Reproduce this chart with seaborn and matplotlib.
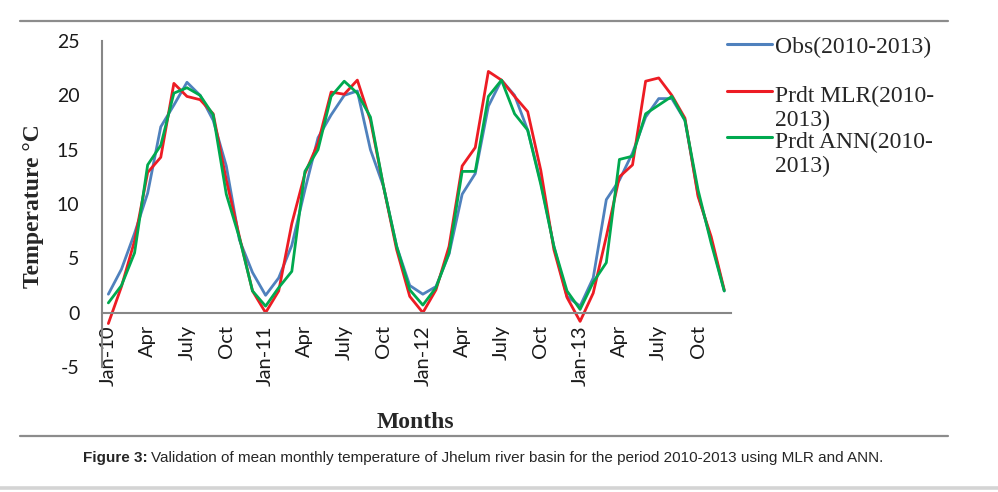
import numpy as np
import pandas as pd
import matplotlib
matplotlib.use("Agg")
import matplotlib.pyplot as plt
import seaborn as sns
from matplotlib.lines import Line2D

# ---------------- data ----------------
tick_labels = ["Jan-10", "Apr", "July", "Oct", "Jan-11", "Apr", "July", "Oct",
               "Jan-12", "Apr", "July", "Oct", "Jan-13", "Apr", "July", "Oct"]
y_ticks = [-5, 0, 5, 10, 15, 20, 25]

obs = [1.7, 4.0, 7.3, 11.0, 17.1, 19.1, 21.2, 20.0, 17.7, 13.5, 6.7, 3.7,
       1.6, 3.2, 6.2, 11.3, 16.1, 18.2, 20.0, 20.4, 15.0, 11.6, 6.1, 2.5,
       1.7, 2.4, 5.4, 10.9, 12.8, 19.0, 21.4, 20.0, 16.8, 12.0, 6.1, 1.5,
       0.6, 3.2, 10.4, 12.2, 14.7, 18.0, 19.7, 19.7, 17.7, 10.9, 6.7, 2.0]
mlr = [-1.0, 2.4, 6.6, 12.9, 14.3, 21.1, 19.9, 19.6, 18.3, 12.2, 7.0, 2.0,
       0.0, 2.0, 8.2, 12.8, 15.6, 20.3, 20.1, 21.4, 17.7, 11.6, 5.8, 1.5,
       0.0, 2.1, 6.1, 13.5, 15.2, 22.2, 21.4, 19.9, 18.5, 13.1, 5.8, 1.4,
       -0.8, 1.8, 7.0, 12.5, 13.6, 21.3, 21.6, 20.0, 17.9, 10.7, 7.0, 2.1]
ann = [0.9, 2.5, 5.5, 13.6, 15.4, 20.2, 20.7, 20.0, 18.2, 10.9, 6.9, 2.0,
       0.6, 2.3, 3.8, 13.0, 15.0, 19.9, 21.3, 20.2, 18.0, 11.6, 6.1, 2.1,
       0.7, 2.3, 5.5, 13.0, 13.0, 19.9, 21.4, 18.3, 16.8, 11.8, 6.1, 2.0,
       0.3, 2.8, 4.6, 14.1, 14.4, 18.3, 19.1, 19.9, 17.7, 11.3, 6.4, 2.0]
series_names = ["Obs(2010-2013)", "Prdt MLR(2010-2013)", "Prdt ANN(2010-2013)"]
legend_labels = ["Obs(2010-2013)", "Prdt MLR(2010-\n2013)", "Prdt ANN(2010-\n2013)"]
colors = ["#4F81BD", "#ED1C24", "#00A94F"]

n = len(obs)
df = pd.DataFrame({
    "month": np.tile(np.arange(n), 3),
    "value": obs + mlr + ann,
    "series": np.repeat(series_names, n),
})

# ---------------- style ----------------
sns.set_style("white")
plt.rcParams["font.family"] = ["Lato", "DejaVu Sans"]
plt.rcParams["axes.unicode_minus"] = False

W, H = 998, 492
fig = plt.figure(figsize=(W / 100, H / 100), dpi=100)
ax = fig.add_axes([101.8 / W, 1 - 367 / H, (730.8 - 101.8) / W, (367 - 41) / H])

sns.lineplot(data=df, x="month", y="value", hue="series", hue_order=series_names,
             palette=dict(zip(series_names, colors)), sort=False, legend=False,
             linewidth=2.0, ax=ax)
for ln in ax.get_lines():
    ln.set_solid_joinstyle("round")
    ln.set_solid_capstyle("round")

gray = "#878787"
ax.set_xlim(-0.5, n - 0.5)
ax.set_ylim(-5, 25)
for s in ["top", "right"]:
    ax.spines[s].set_visible(False)
ax.spines["bottom"].set_position(("data", 0))
for s in ["left", "bottom"]:
    ax.spines[s].set_color(gray)
    ax.spines[s].set_linewidth(1.5)

ax.set_yticks(y_ticks)
ax.set_yticklabels([str(v) for v in y_ticks], fontsize=14, color="#1a1a1a")
ax.tick_params(axis="y", length=4, width=1.5, color=gray, pad=12, direction="out")

ax.set_xticks(np.arange(0, n, 3))
ax.set_xticklabels(tick_labels, rotation=90, fontsize=14.5, color="#1a1a1a")
ax.set_xticks(np.arange(-0.5, n, 3), minor=True)
ax.tick_params(axis="x", which="major", length=0, pad=9)
ax.tick_params(axis="x", which="minor", length=5, width=1.5, color=gray, direction="out")
ax.set_xlabel("")
ax.set_ylabel("Temperature °C", family="Liberation Serif", fontweight="bold", fontsize=17)
ax.yaxis.set_label_coords((44 - 101.8) / (730.8 - 101.8), (367 - 206) / (367 - 41))

fig.text(415 / W, 1 - 428 / H, "Months", family="Liberation Serif", fontweight="bold",
         fontsize=17, ha="center", va="baseline")

# ---------------- legend (Excel-style, right side) ----------------
line_y = [44, 91, 137]
last_base_y = [53, 126, 172]
for c, lab, ly, by in zip(colors, legend_labels, line_y, last_base_y):
    fig.add_artist(Line2D([727 / W, 772 / W], [1 - ly / H] * 2, color=c, lw=2.2,
                          transform=fig.transFigure))
    fig.text(775 / W, 1 - by / H, lab, family="Liberation Serif", fontsize=17,
             ha="left", va="baseline", linespacing=1.2)

# ---------------- frame lines and caption ----------------
fig.add_artist(Line2D([20 / W, 948 / W], [1 - 20.5 / H] * 2, color="#8c8c8c", lw=1.6,
                      transform=fig.transFigure))
fig.add_artist(Line2D([20 / W, 948 / W], [1 - 436 / H] * 2, color="#8c8c8c", lw=1.6,
                      transform=fig.transFigure))
fig.add_artist(Line2D([0, 1], [1 - 488 / H] * 2, color="#d4d4d4", lw=2.6,
                      transform=fig.transFigure))

renderer = fig.canvas.get_renderer()
t1 = fig.text(83 / W, 1 - 462 / H, "Figure 3:", family="Liberation Sans", fontweight="bold",
              fontsize=11.0, ha="left", va="baseline")
bb = t1.get_window_extent(renderer)
fig.text((bb.x1 + 3) / W, 1 - 462 / H,
         "Validation of mean monthly temperature of Jhelum river basin for the period "
         "2010-2013 using MLR and ANN.", family="Liberation Sans", fontsize=11.0,
         ha="left", va="baseline")

fig.savefig("out.png", dpi=100)
